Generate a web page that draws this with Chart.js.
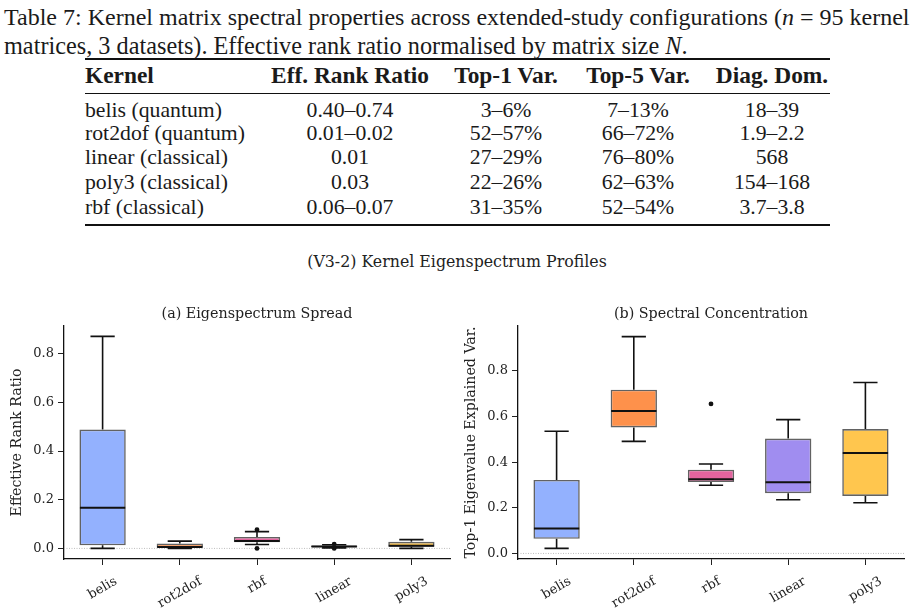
<!DOCTYPE html>
<html><head><meta charset="utf-8">
<script src="https://cdn.jsdelivr.net/npm/chart.js@4.4.1/dist/chart.umd.min.js"></script>
<style>
html,body{margin:0;padding:0;background:#fff}
body{width:914px;height:610px;position:relative;overflow:hidden;font-family:"Liberation Serif",serif;color:#1a1a1a}
.t{position:absolute;white-space:nowrap;line-height:1}
.rule{position:absolute;left:85px;width:745px;background:#111}
canvas{position:absolute}
#sup{position:absolute;left:0;width:914px;top:253px;text-align:center;font-family:"DejaVu Serif",serif;font-size:15.8px;line-height:1.1;color:#222}
</style></head><body>
<div id="cap1" class="t" style="left:4px;top:5px">Table 7: Kernel matrix spectral properties across extended-study configurations (<i>n</i> = 95 kernel</div>
<div id="cap2" class="t" style="left:4px;top:34px">matrices, 3 datasets). Effective rank ratio normalised by matrix size <i>N</i>.</div>
<div class="rule" style="top:58px;height:2px"></div>
<div class="rule" style="top:93px;height:1px"></div>
<div class="rule" style="top:224px;height:2px"></div>
<div id="tbl"></div>
<div id="sup">(V3-2) Kernel Eigenspectrum Profiles</div>
<canvas id="ca" width="457" height="310" style="left:0;top:300px"></canvas>
<canvas id="cb" width="457" height="310" style="left:457px;top:300px"></canvas>
<script>
// ---------- table data ----------
const tableHeader = ['Kernel','Eff. Rank Ratio','Top-1 Var.','Top-5 Var.','Diag. Dom.'];
const tableKernels = ['belis (quantum)','rot2dof (quantum)','linear (classical)','poly3 (classical)','rbf (classical)'];
const tableRank = ['0.40–0.74','0.01–0.02','0.01','0.03','0.06–0.07'];
const tableTop1 = ['3–6%','52–57%','27–29%','22–26%','31–35%'];
const tableTop5 = ['7–13%','66–72%','76–80%','62–63%','52–54%'];
const tableDiag = ['18–39','1.9–2.2','568','154–168','3.7–3.8'];

// ---------- chart data ----------
const kernels = ['belis','rot2dof','rbf','linear','poly3'];
const yTicks = [0.0,0.2,0.4,0.6,0.8];
// (a) Effective rank ratio
const rankLo  = [0.000, 0.000, 0.016, 0.002, 0.000];
const rankQ1  = [0.013, 0.003, 0.025, 0.005, 0.007];
const rankMed = [0.167, 0.006, 0.030, 0.008, 0.011];
const rankQ3  = [0.488, 0.020, 0.047, 0.012, 0.027];
const rankHi  = [0.871, 0.030, 0.069, 0.015, 0.036];
const rankOutliers = [{x:'rbf',y:0.077},{x:'rbf',y:0.0},{x:'linear',y:0.018},{x:'linear',y:0.0}];
// (b) Top-1 eigenvalue explained variance
const topLo  = [0.022, 0.491, 0.299, 0.235, 0.222];
const topQ1  = [0.064, 0.552, 0.313, 0.264, 0.252];
const topMed = [0.109, 0.624, 0.325, 0.312, 0.440];
const topQ3  = [0.322, 0.717, 0.367, 0.503, 0.545];
const topHi  = [0.535, 0.950, 0.392, 0.586, 0.749];
const topOutliers = [{x:'rbf',y:0.655}];

const boxColors = ['#93b1fe','#fe914b','#e2649e','#a08df0','#ffc64e'];

// ---------- table layout ----------
function fitSize(el, target, base){
  el.style.fontSize = base+'px';
  const w = el.getBoundingClientRect().width;
  const s = base*target/w;
  el.style.fontSize = s+'px';
  return s;
}
fitSize(document.getElementById('cap1'), 906, 20);
fitSize(document.getElementById('cap2'), 684, 20);

const tbl = document.getElementById('tbl');
const colX = [85,350,506,638,772];
const rowY = [111,134,158,183,208];
function addCell(text, x, y, left, bold){
  const d = document.createElement('div');
  d.className='t'; d.textContent=text;
  d.style.left = x+'px'; d.style.top = y+'px';
  d.style.transform = left ? 'translateY(-50%)' : 'translate(-50%,-50%)';
  if(bold) d.style.fontWeight='bold';
  tbl.appendChild(d); return d;
}
const probe = addCell('rot2dof (quantum)',0,-100,true,false);
const bodySize = fitSize(probe,160,18); probe.remove();
const probeH = addCell('Eff. Rank Ratio',0,-100,true,true);
const headSize = fitSize(probeH,158,18); probeH.remove();
tableHeader.forEach((h,j)=>{ addCell(h,colX[j],76,j===0,true).style.fontSize=headSize+'px'; });
const cols = [tableKernels,tableRank,tableTop1,tableTop5,tableDiag];
rowY.forEach((y,i)=>{
  cols.forEach((c,j)=>{ addCell(c[i],colX[j],y,j===0,false).style.fontSize=bodySize+'px'; });
});

// ---------- charts ----------
Chart.defaults.font.family = "'DejaVu Serif', serif";
Chart.defaults.color = '#222';
const ANG = 30*Math.PI/180;
const TICK_FONT = 13;

function boxChart(id, o){
  const plugin = {
    id:'boxparts',
    beforeDatasetsDraw(chart){
      const {ctx, chartArea:a, scales:{x,y}} = chart;
      const y0 = y.getPixelForValue(0);
      ctx.save();
      ctx.strokeStyle='#b5b5b5'; ctx.lineWidth=0.9; ctx.setLineDash([1,1.5]);
      ctx.beginPath(); ctx.moveTo(a.left,y0); ctx.lineTo(a.right,y0); ctx.stroke();
      ctx.setLineDash([]);
      const step = x.getPixelForValue(1)-x.getPixelForValue(0);
      const cap = step*0.157;
      ctx.strokeStyle='#111'; ctx.lineWidth=1.6;
      kernels.forEach((k,i)=>{
        const px = x.getPixelForValue(i);
        const lo=y.getPixelForValue(o.lo[i]), q1=y.getPixelForValue(o.q1[i]),
              q3=y.getPixelForValue(o.q3[i]), hi=y.getPixelForValue(o.hi[i]);
        ctx.beginPath();
        ctx.moveTo(px,q1); ctx.lineTo(px,lo);
        ctx.moveTo(px,q3); ctx.lineTo(px,hi);
        ctx.moveTo(px-cap,lo); ctx.lineTo(px+cap,lo);
        ctx.moveTo(px-cap,hi); ctx.lineTo(px+cap,hi);
        ctx.stroke();
      });
      ctx.restore();
    },
    afterDatasetsDraw(chart){
      const {ctx, scales:{x,y}} = chart;
      const meta = chart.getDatasetMeta(0);
      ctx.save(); ctx.strokeStyle='#111'; ctx.lineWidth=2;
      kernels.forEach((k,i)=>{
        const bar = meta.data[i];
        const half = bar.width/2 - 0.5;
        const px = x.getPixelForValue(i), pm = y.getPixelForValue(o.med[i]);
        ctx.beginPath(); ctx.moveTo(px-half,pm); ctx.lineTo(px+half,pm); ctx.stroke();
      });
      ctx.restore();
    },
    afterDraw(chart){
      const {ctx, chartArea:a, scales:{x}} = chart;
      ctx.save();
      ctx.fillStyle='#222';
      ctx.textAlign='center'; ctx.textBaseline='middle';
      ctx.font = "14.3px 'DejaVu Serif'";
      ctx.fillText(o.title, (a.left+a.right)/2, 14);
      ctx.font = TICK_FONT+"px 'DejaVu Serif'";
      kernels.forEach((k,i)=>{
        const px = x.getPixelForValue(i);
        const w = ctx.measureText(k).width, h = TICK_FONT*1.15;
        const bh = w*Math.sin(ANG)+h*Math.cos(ANG);
        const cy = x.top + 15 + bh/2;
        ctx.save(); ctx.translate(px,cy); ctx.rotate(-ANG); ctx.fillText(k,0,0); ctx.restore();
      });
      ctx.restore();
    }
  };
  return new Chart(document.getElementById(id),{
    type:'bar',
    data:{
      labels: kernels,
      datasets:[
        {type:'bar', data: kernels.map((k,i)=>[o.q1[i],o.q3[i]]),
         backgroundColor: boxColors, borderColor:'rgba(70,70,70,0.85)', borderWidth:1.6,
         borderSkipped:false, barPercentage:0.6, categoryPercentage:1.0},
        {type:'line', data:o.out, showLine:false, pointRadius:2.4, pointBackgroundColor:'#111',
         pointBorderWidth:0, pointHoverRadius:2.4}
      ]
    },
    options:{
      responsive:false, animation:false,
      layout:{padding:{left:0,right:o.padR,top:26,bottom:0}},
      plugins:{
        legend:{display:false}, tooltip:{enabled:false}, title:{display:false}
      },
      scales:{
        x:{
          offset:true,
          grid:{display:true, offset:false, drawOnChartArea:false, drawTicks:true, tickLength:6, tickColor:'#222', tickWidth:1},
          border:{display:true, color:'#111', width:1.3},
          ticks:{display:false},
          afterFit:(s)=>{ s.height = 51; }
        },
        y:{
          min:o.min, max:o.max,
          afterBuildTicks:(s)=>{ s.ticks = yTicks.map(v=>({value:v})); },
          grid:{display:true, drawOnChartArea:false, drawTicks:true, tickLength:6, tickColor:'#222', tickWidth:1},
          border:{display:true, color:'#111', width:1.3},
          ticks:{font:{size:TICK_FONT}, color:'#222', padding:4, callback:(v)=>Number(v).toFixed(1)},
          title:{display:true, text:o.ytitle, color:'#222', font:{size:14.2}, padding:{top:o.tpad,bottom:0}},
          afterFit:(s)=>{ s.width = o.yw; }
        }
      }
    },
    plugins:[plugin]
  });
}

boxChart('ca',{title:'(a) Eigenspectrum Spread', ytitle:'Effective Rank Ratio',
  lo:rankLo,q1:rankQ1,med:rankMed,q3:rankQ3,hi:rankHi,out:rankOutliers,
  min:-0.0435,max:0.9135,yw:64,padR:7,tpad:8.5});
boxChart('cb',{title:'(b) Spectral Concentration', ytitle:'Top-1 Eigenvalue Explained Var.',
  lo:topLo,q1:topQ1,med:topMed,q3:topQ3,hi:topHi,out:topOutliers,
  min:-0.0244,max:0.9964,yw:61,padR:10,tpad:6.2});
</script>
</body></html>
